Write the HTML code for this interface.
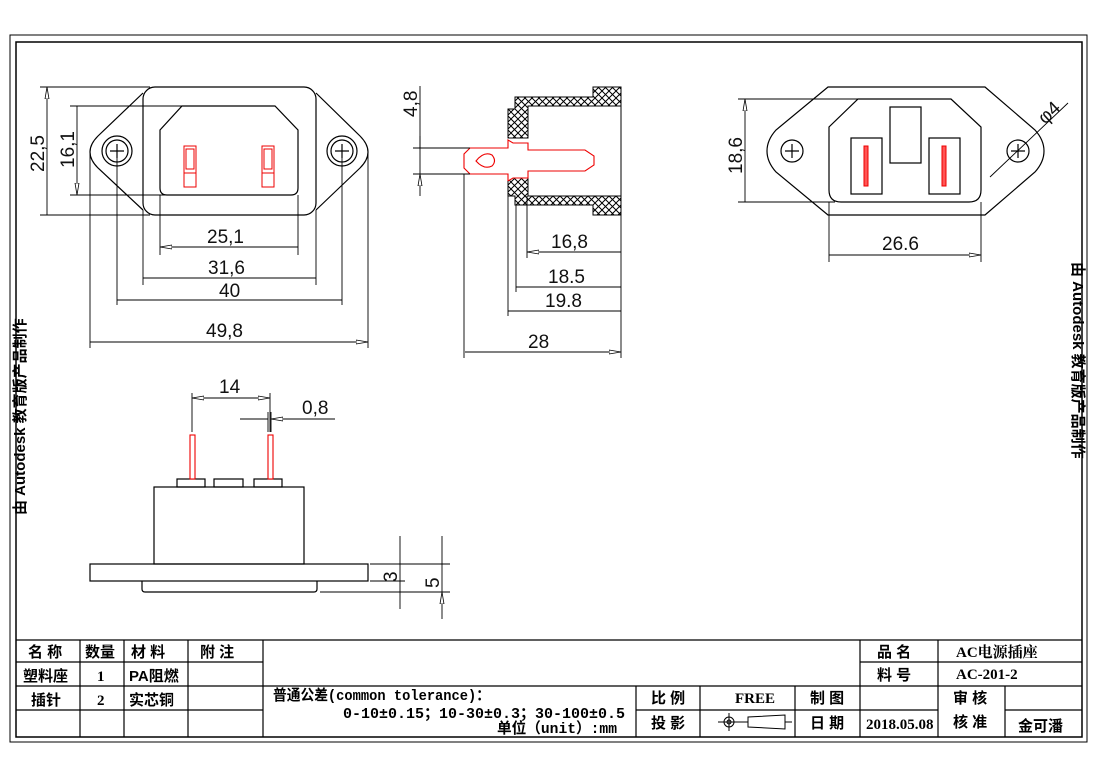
<!DOCTYPE html>
<html><head><meta charset="utf-8"><style>
html,body{margin:0;padding:0;background:#fff;}
svg{display:block;}
.d{font-family:"Liberation Sans","DejaVu Sans",sans-serif;font-size:19px;fill:#111;}
.t{font-family:"Liberation Serif","Noto Serif CJK SC",serif;font-size:15px;font-weight:bold;fill:#000;}
.c{font-family:"Liberation Sans","Noto Sans CJK SC",sans-serif;font-size:15px;font-weight:bold;fill:#000;}
.m{font-family:"Liberation Mono","Noto Sans CJK SC",monospace;font-size:15px;font-weight:bold;fill:#000;}
</style></head><body>
<svg width="1100" height="778" viewBox="0 0 1100 778" xmlns="http://www.w3.org/2000/svg">
<defs>
<pattern id="h" width="7" height="7" patternUnits="userSpaceOnUse"><path d="M0 0L7 7M7 0L0 7" stroke="#000" stroke-width="1"/></pattern>
<marker id="a" markerWidth="12" markerHeight="6" refX="12" refY="3" orient="auto" markerUnits="userSpaceOnUse"><path d="M0 1L12 3L0 5Z" fill="#fff" stroke="#000" stroke-width="0.8"/></marker>
<marker id="b" markerWidth="12" markerHeight="6" refX="0" refY="3" orient="auto" markerUnits="userSpaceOnUse"><path d="M12 1L0 3L12 5Z" fill="#fff" stroke="#000" stroke-width="0.8"/></marker>
</defs>
<g fill="none" stroke="#000" stroke-width="1">
<rect x="10" y="35" width="1077" height="707"/>
<rect x="16" y="42" width="1066" height="695" stroke-width="1.5"/>
</g>
<text class="c" transform="translate(25,515) rotate(-90)" font-size="15">由 Autodesk 教育版产品制作</text>
<text class="c" transform="translate(1073,262) rotate(90)" font-size="15">由 Autodesk 教育版产品制作</text>

<!-- Front view left -->
<g fill="none" stroke="#000" stroke-width="1.2">
<rect x="143" y="87" width="173" height="128" rx="12"/>
<path d="M143 93 L98 136 Q90 144 90 152 Q90 160 98 168 L143 210"/>
<path d="M316 93 L360 136 Q368 144 368 152 Q368 160 360 168 L316 210"/>
<path d="M160 130 L182 106 L275 106 L298 130 L298 188 Q298 195 291 195 L167 195 Q160 195 160 188 Z"/>
<circle cx="117" cy="151" r="15"/><circle cx="117" cy="151" r="11"/>
<circle cx="342" cy="151" r="15"/><circle cx="342" cy="151" r="11"/>
<path d="M110 151h14M117 144v14M335 151h14M342 144v14"/>
</g>
<g fill="none" stroke="#e00" stroke-width="1">
<rect x="184" y="146" width="12" height="41"/><rect x="186" y="149" width="8" height="20"/><path d="M184 173h12"/>
<rect x="262" y="146" width="12" height="41"/><rect x="264" y="149" width="8" height="20"/><path d="M262 173h12"/>
</g>
<g fill="none" stroke="#000" stroke-width="0.9">
<path d="M40 87H150M40 215H150M70 106H182M70 195H165"/>
<path d="M47 87V215M77 106V195" marker-start="url(#b)" marker-end="url(#a)"/>
<path d="M160 195V255M298 195V255M143 210V285M316 210V285M117 151V305M342 151V305M90 152V348M368 152V348"/>
<path d="M160 247H298M143 278H316M117 300H342M90 342H368" marker-start="url(#b)" marker-end="url(#a)"/>
</g>
<text class="d" transform="translate(44,172) rotate(-90)">22,5</text>
<text class="d" transform="translate(74,168) rotate(-90)">16,1</text>
<text class="d" x="207" y="243">25,1</text>
<text class="d" x="208" y="274">31,6</text>
<text class="d" x="219" y="297">40</text>
<text class="d" x="206" y="337">49,8</text>

<!-- Side view -->
<g stroke="#000" stroke-width="1">
<path d="M515 97H593V87H621V106H528V138H508V109H515Z" fill="url(#h)"/>
<path d="M515 205H593V215H621V196H528V174H508V196H515Z" fill="url(#h)"/>
<path d="M621 106V196" fill="none"/>
</g>
<g fill="#fff" stroke="#e00" stroke-width="1.1">
<path d="M470 148H508V140L513 143H528V150H585L594 156V165L585 171H528V178H513L508 181V174H470L464 168V154Z"/>
<path d="M476 161 Q484 151 492 155 Q497 161 492 166 Q484 170 476 161Z" fill="none"/>
</g>
<g fill="none" stroke="#000" stroke-width="0.9">
<path d="M413 148H470M413 174H470M420 86V196"/>
<path d="M420 136V148M420 186V174" marker-end="url(#a)"/>
<path d="M464 174V358M508 181V316M516 205V292M527 196V258M621 215V358"/>
<path d="M527 252H621M516 287H621M508 311H621M465 352H621" marker-start="url(#b)" marker-end="url(#a)"/>
</g>
<text class="d" transform="translate(417,117) rotate(-90)">4,8</text>
<text class="d" x="551" y="248">16,8</text>
<text class="d" x="548" y="283">18.5</text>
<text class="d" x="545" y="307">19.8</text>
<text class="d" x="528" y="348">28</text>

<!-- Right view -->
<g fill="none" stroke="#000" stroke-width="1.2">
<path d="M828 87H985L1035 130Q1044 140 1044 151Q1044 162 1035 172L985 215H828L776 172Q767 162 767 151Q767 140 776 130Z"/>
<path d="M858 99H951L981 127V190Q981 202 969 202H841Q829 202 829 190V127Z"/>
<rect x="890" y="107" width="31" height="56"/>
<rect x="851" y="138" width="31" height="56"/>
<rect x="929" y="138" width="31" height="56"/>
<circle cx="792" cy="151" r="11"/><circle cx="1018" cy="151" r="11"/>
<path d="M785 151h14M792 144v14M1011 151h14M1018 144v14"/>
</g>
<g fill="#f55" stroke="#e00" stroke-width="1"><rect x="864" y="146" width="4" height="40"/><rect x="942" y="146" width="4" height="40"/></g>
<g fill="none" stroke="#000" stroke-width="0.9">
<path d="M738 99H860M738 202H835M829 202V262M981 202V262"/>
<path d="M745 99V202M829 255H981" marker-start="url(#b)" marker-end="url(#a)"/>
<path d="M990 177L1068 103"/>
</g>
<text class="d" transform="translate(742,174) rotate(-90)">18,6</text>
<text class="d" x="882" y="250">26.6</text>
<text class="d" transform="translate(1045,125) rotate(-43)">φ4</text>

<!-- Bottom view -->
<g fill="none" stroke="#000" stroke-width="1.2">
<rect x="154" y="487" width="150" height="77"/>
<rect x="90" y="564" width="278" height="17"/>
<path d="M142 581V589Q142 592 145 592H314Q317 592 317 589V581"/>
<rect x="177" y="479" width="28" height="8"/><rect x="214" y="479" width="29" height="8"/><rect x="254" y="479" width="28" height="8"/>
</g>
<g fill="#fff" stroke="#e00" stroke-width="1.1"><rect x="190" y="435" width="5" height="44"/><rect x="268" y="435" width="5" height="44"/></g>
<g fill="none" stroke="#000" stroke-width="0.9">
<path d="M192 393V432M270 393V432M268 412V432M271 412V432"/>
<path d="M192 398H270" marker-start="url(#b)" marker-end="url(#a)"/>
<path d="M240 419H256M283 419H335"/>
<path d="M256 419H268M283 419H271" marker-end="url(#a)"/>
<path d="M370 564H450M370 581H405M320 592H450"/>
<path d="M400 536V564M400 609V581M442 536V564M442 619V592" marker-end="url(#a)"/>
<path d="M400 564V581M442 564V592"/>
</g>
<text class="d" x="219" y="393">14</text>
<text class="d" x="302" y="414">0,8</text>
<text class="d" transform="translate(397,582) rotate(-90)">3</text>
<text class="d" transform="translate(439,588) rotate(-90)">5</text>

<!-- Title block -->
<g fill="none" stroke="#000" stroke-width="1.2">
<path d="M16 640H1082M16 662H263M860 662H1082M16 686H263M263 686H1082M16 710H263M636 710H938M1005 710H1082"/>
<path d="M80 640V737M124 640V737M188 640V737M263 640V737M860 640V737M938 640V737M636 686V737M700 686V737M795 686V737M1005 686V737"/>
</g>
<text class="c" x="28" y="657">名 称</text><text class="c" x="85" y="657">数量</text><text class="c" x="131" y="657">材 料</text><text class="c" x="200" y="657">附 注</text>
<text class="c" x="23" y="681">塑料座</text><text class="t" x="97" y="681">1</text><text class="c" x="129" y="681">PA阻燃</text>
<text class="c" x="31" y="705">插针</text><text class="t" x="97" y="705">2</text><text class="c" x="129" y="705">实芯铜</text>
<text class="m" x="273" y="700" textLength="217" lengthAdjust="spacingAndGlyphs">普通公差(common tolerance)：</text>
<text class="m" x="343" y="718" textLength="282" lengthAdjust="spacingAndGlyphs">0-10±0.15；10-30±0.3；30-100±0.5</text>
<text class="m" x="497" y="733" textLength="120" lengthAdjust="spacingAndGlyphs">单位（unit）:mm</text>
<text class="c" x="651" y="703">比 例</text><text class="t" x="735" y="703">FREE</text><text class="c" x="810" y="703">制 图</text>
<text class="c" x="651" y="728">投 影</text><text class="c" x="810" y="728">日 期</text>
<text class="t" x="866" y="729" font-size="12">2018.05.08</text>
<text class="c" x="877" y="657">品 名</text><text class="c" x="877" y="680">料 号</text>
<text class="t" x="956" y="657">AC电源插座</text><text class="t" x="956" y="679">AC-201-2</text>
<text class="c" x="953" y="703">审 核</text><text class="c" x="953" y="727">核 准</text><text class="c" x="1018" y="731">金可潘</text>
<g fill="none" stroke="#000" stroke-width="1">
<circle cx="729" cy="722" r="5"/><circle cx="729" cy="722" r="2"/>
<path d="M718 722H748M729 713V731M748 717V727L785 729V715Z M785 722H792"/>
</g>
</svg>
</body></html>
